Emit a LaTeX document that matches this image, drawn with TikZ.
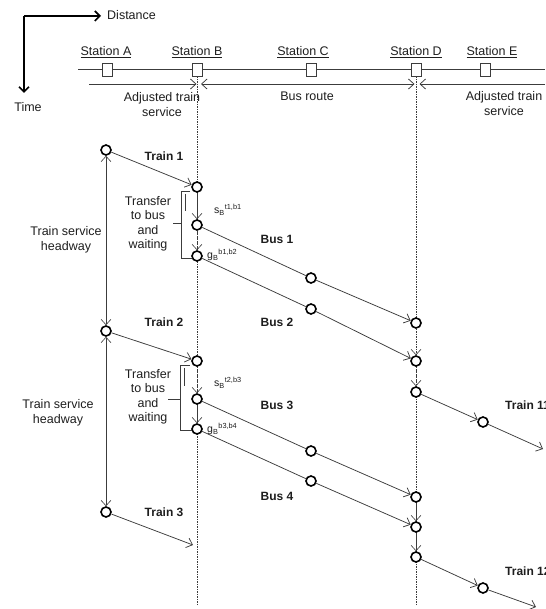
\documentclass[tikz,border=0pt]{standalone}
\usepackage{fontspec}
\setmainfont{Liberation Sans}
\usetikzlibrary{arrows.meta}
\definecolor{ln}{HTML}{3C3C3C}
\definecolor{tx}{HTML}{1E1E1E}
\begin{document}
\begin{tikzpicture}[x=1pt,y=-1pt,
  stop/.style={circle,draw=black,line width=1.6pt,fill=white,minimum size=10pt,inner sep=0pt},
  flow/.style={draw=ln,line width=0.75pt},
  arr/.style={-{Straight Barb[length=5.5pt,width=10pt]}},
  darr/.style={{Straight Barb[length=5.5pt,width=10pt]}-{Straight Barb[length=5.5pt,width=10pt]}},
  vflow/.style={draw=ln,line width=0.6pt,dash pattern=on 1.5pt off 1pt,-{Straight Barb[length=5.5pt,width=10pt]}},
  guide/.style={draw=ln,line width=0.6pt,dash pattern=on 1.5pt off 1pt},
  lbl/.style={font=\fontsize{12.5}{14.5}\selectfont,text=tx,inner sep=0pt,align=center},
  blbl/.style={font=\fontsize{12}{13}\selectfont\bfseries,text=tx,inner sep=0pt},
  slbl/.style={font=\fontsize{10.5}{11}\selectfont,text=tx,inner sep=0pt,anchor=west},
  stbox/.style={draw=ln,fill=white,line width=0.6pt,minimum width=10pt,minimum height=13pt,inner sep=0pt},
  axis/.style={draw=black,line width=1.7pt},
  brace/.style={draw=ln,line width=0.75pt},
]
\useasboundingbox (0,0) rectangle (545,609);

% axes
\coordinate (ax0) at (24,16);
\coordinate (axX) at (101,16);
\coordinate (axY) at (24,93);
\draw[axis,-{Straight Barb[length=5pt,width=10pt]}] (ax0) -- (axX);
\draw[axis,-{Straight Barb[length=5pt,width=10pt]}] (ax0) -- (axY);
\node[lbl,anchor=west] (dist) at (107,15) {Distance};
\node[lbl] (time) at (28,107) {Time};

% track and stations
\coordinate (trackL) at (78,69);
\coordinate (trackR) at (545,69);
\draw[draw=ln,line width=0.7pt] (trackL) -- (trackR);
\node[lbl] (stA) at (106,52) {\underline{Station A}};
\node[lbl] (stB) at (197,52) {\underline{Station B}};
\node[lbl] (stC) at (303,52) {\underline{Station C}};
\node[lbl] (stD) at (416,52) {\underline{Station D}};
\node[lbl] (stE) at (492,52) {\underline{Station E}};
\node[stbox] (bxA) at (107,69.5) {};
\node[stbox] (bxB) at (197,69.5) {};
\node[stbox] (bxC) at (311,69.5) {};
\node[stbox] (bxD) at (416,69.5) {};
\node[stbox] (bxE) at (485,69.5) {};

% vertical guides
\coordinate (Bbot) at (197,605);
\coordinate (Dbot) at (416,605);
\draw[guide] (bxB.south) -- (Bbot);
\draw[guide] (bxD.south) -- (Dbot);

% service ranges
\coordinate (svL) at (89,84);
\coordinate (svBl) at (196.5,84);
\coordinate (svBr) at (201,84);
\coordinate (svDl) at (414.5,84);
\coordinate (svDr) at (419.5,84);
\coordinate (svR) at (545,84);
\draw[flow,arr] (svL) -- (svBl);
\draw[flow,darr] (svBr) -- (svDl);
\draw[flow,arr] (svR) -- (svDr);
\node[lbl] (adjL) at (162,104.5) {Adjusted train\\service};
\node[lbl] (busr) at (307,96) {Bus route};
\node[lbl] (adjR) at (504,103.5) {Adjusted train\\service};

% events
\node[stop] (T1) at (106,150) {};
\node[stop] (T2) at (106,331) {};
\node[stop] (T3) at (106,512) {};
\node[stop] (B1) at (197,187) {};
\node[stop] (S1) at (197,225) {};
\node[stop] (G1) at (197,256) {};
\node[stop] (B2) at (197,361) {};
\node[stop] (S2) at (197,399) {};
\node[stop] (G2) at (197,429) {};
\node[stop] (M1) at (311,278) {};
\node[stop] (M2) at (311,309) {};
\node[stop] (M3) at (311,451) {};
\node[stop] (M4) at (311,481) {};
\node[stop] (D1) at (416,323) {};
\node[stop] (D2) at (416,361) {};
\node[stop] (D3) at (416,392) {};
\node[stop] (D4) at (416,497) {};
\node[stop] (D5) at (416,527) {};
\node[stop] (D6) at (416,557) {};
\node[stop] (E1) at (483,422) {};
\node[stop] (E2) at (483,588) {};
\coordinate (T3end) at (193,545);
\coordinate (E1end) at (543,449);
\coordinate (E2end) at (536,607);

% trains
\draw[flow,arr] (T1) -- (B1);
\draw[flow,arr] (T2) -- (B2);
\draw[flow,arr] (T3) -- (T3end);
\draw[flow,arr] (D3) -- (E1);
\draw[flow,arr] (E1) -- (E1end);
\draw[flow,arr] (D6) -- (E2);
\draw[flow,arr] (E2) -- (E2end);

% buses
\draw[flow] (S1) -- (M1);
\draw[flow,arr] (M1) -- (D1);
\draw[flow] (G1) -- (M2);
\draw[flow,arr] (M2) -- (D2);
\draw[flow] (S2) -- (M3);
\draw[flow,arr] (M3) -- (D4);
\draw[flow] (G2) -- (M4);
\draw[flow,arr] (M4) -- (D5);

% waiting at stations
\draw[vflow] (B1) -- (S1);
\draw[vflow] (S1) -- (G1);
\draw[vflow] (B2) -- (S2);
\draw[vflow] (S2) -- (G2);
\draw[vflow] (D1) -- (D2);
\draw[vflow] (D2) -- (D3);
\draw[vflow] (D4) -- (D5);
\draw[vflow] (D5) -- (D6);

% headways
\draw[draw=ln,line width=0.6pt,darr] (T1) -- (T2);
\draw[draw=ln,line width=0.6pt,darr] (T2) -- (T3);
\node[lbl] (hw1) at (66,240) {Train service\\headway};
\node[lbl] (hw2) at (58,413) {Train service\\headway};

% braces
\draw[brace] (190,191) -- (181,191) -- (181,258) -- (192,258);
\draw[brace] (173,223) -- (181,223);
\draw[brace] (185,194) -- (185,211);
\draw[brace] (190,365) -- (180,365) -- (180,430) -- (192,430);
\draw[brace] (168,399) -- (180,399);
\draw[brace] (184,368) -- (184,386);
\node[lbl] (tr1) at (148,224) {Transfer\\to bus\\and\\waiting};
\node[lbl] (tr2) at (148,397) {Transfer\\to bus\\and\\waiting};

% labels
\node[blbl] (lT1) at (164,156) {Train 1};
\node[blbl] (lT2) at (164,322) {Train 2};
\node[blbl] (lT3) at (164,512) {Train 3};
\node[blbl,anchor=west] (lT11) at (505,405) {Train 11};
\node[blbl,anchor=west] (lT12) at (505,571) {Train 12};
\node[blbl] (lB1) at (277,239) {Bus 1};
\node[blbl] (lB2) at (277,322) {Bus 2};
\node[blbl] (lB3) at (277,405) {Bus 3};
\node[blbl] (lB4) at (277,496) {Bus 4};
\node[slbl] (s1) at (214,210) {s\textsubscript{B}\textsuperscript{t1,b1}};
\node[slbl] (g1) at (207,255) {g\textsubscript{B}\textsuperscript{b1,b2}};
\node[slbl] (s2) at (214,383) {s\textsubscript{B}\textsuperscript{t2,b3}};
\node[slbl] (g2) at (207,429) {g\textsubscript{B}\textsuperscript{b3,b4}};
\end{tikzpicture}
\end{document}
